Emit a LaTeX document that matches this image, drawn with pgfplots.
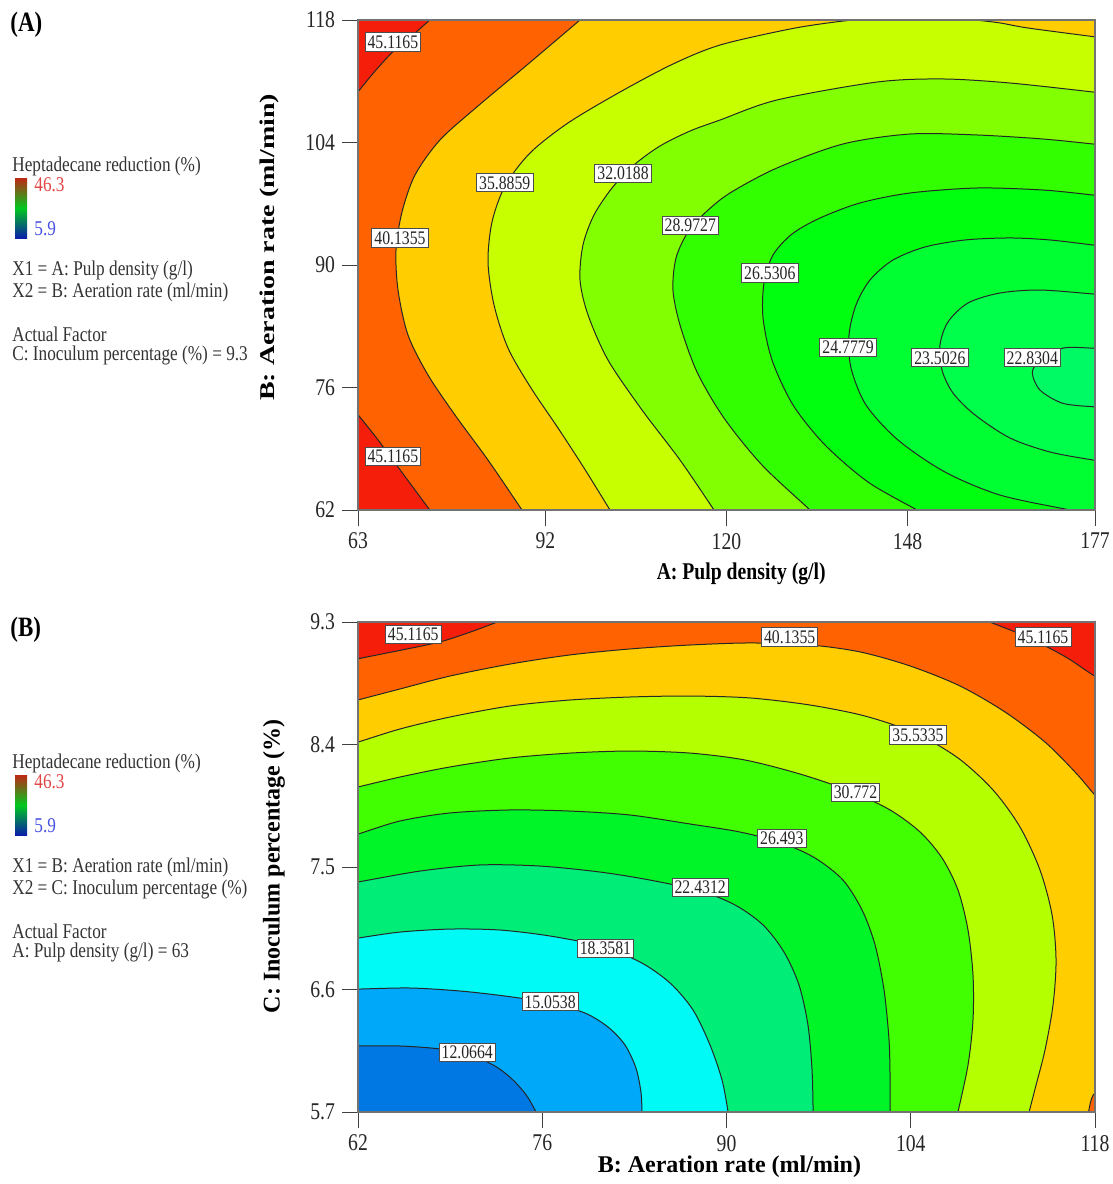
\documentclass[border=0pt]{standalone}
\usepackage{fontspec}
\setmainfont{Liberation Serif}[FakeStretch=0.82]
\newfontfamily\plainserif{Liberation Serif}
\usepackage{graphicx}
\usepackage{pgfplots}
\pgfplotsset{compat=1.18}

% band colours (value range between two contour levels)
\definecolor{cRed}{RGB}{245,30,10}
\definecolor{cOr}{RGB}{255,98,0}
\definecolor{cYO}{RGB}{255,205,0}
\definecolor{cLimeA}{RGB}{200,255,0}
\definecolor{cA4}{RGB}{130,255,0}
\definecolor{cA5}{RGB}{50,255,0}
\definecolor{cA6}{RGB}{0,255,15}
\definecolor{cA7}{RGB}{0,255,50}
\definecolor{cA8}{RGB}{0,255,75}
\definecolor{cA9}{RGB}{0,250,100}
\definecolor{cLimeB}{RGB}{180,255,0}
\definecolor{cB4}{RGB}{65,255,0}
\definecolor{cB5}{RGB}{0,245,40}
\definecolor{cB6}{RGB}{0,238,120}
\definecolor{cB7}{RGB}{0,250,245}
\definecolor{cB8}{RGB}{0,168,250}
\definecolor{cB9}{RGB}{0,120,228}

\newcommand\legf{\fontsize{10.5}{12}\selectfont}

\pgfplotsset{
  rsm/.style={
    scale only axis, width=368.5pt, height=245pt, anchor=north west,
    axis on top, tick pos=left, tick align=outside, major tick length=8pt,
    tick style={black!75, line width=0.5pt},
    axis line style={black!55, line width=0.6pt},
    /pgf/number format/assume math mode=true,
    tick label style={font=\fontsize{12}{14}\selectfont, text=black!85},
  },
  ct/.style={smooth, fill=#1, draw=black!85, line width=0.5pt},
}
\tikzset{lab/.style={draw=black!70, fill=white, inner sep=1.3pt, line width=0.4pt,
  font=\fontsize{9.6}{11}\selectfont, text=black!85}}

\begin{document}
\begin{tikzpicture}
\useasboundingbox (0,0) rectangle (556.5pt,-592pt);

% ---------------- (A) ----------------
\begin{axis}[rsm, at={(179pt,-10pt)},
  xmin=63, xmax=177, ymin=62, ymax=118,
  xtick={63,92,120,148,177}, ytick={62,76,90,104,118},
  axis background/.style={fill=cRed},
  xlabel={A: Pulp density (g/l)},
  xlabel style={font=\bfseries\fontsize{12}{14}\selectfont,
    at={(axis description cs:0.52,-0.1296)}, anchor=center},
  ylabel={\scalebox{1}[0.75]{\plainserif\bfseries\fontsize{14}{16}\selectfont B: Aeration rate (ml/min)}},
  ylabel style={at={(axis description cs:-0.1208,0.536)}, anchor=center},
]
% 45.1165 (two corners)
\addplot[ct=cOr] coordinates {(79.3,121.4) (76.7,119.7) (74.1,118) (71.5,116.3) (68.7,114.6)
  (65.8,112.3) (63,109.8) (60.2,107.3) (57.4,104.8) (45,100) (45,78) (57.6,78.1) (60.3,75.5)
  (63,72.9) (65.8,70.3) (68.4,67.7) (71.3,64.8) (74.1,62) (76,60) (78,58) (190,50) (190,125)};
% 40.1355
\addplot[ct=cYO] coordinates {(101.36,120.51) (99.35,119.26) (97.34,118) (89.14,112.86)
  (81.56,108.17) (75.68,104.29) (71.82,100.29) (69.81,96.06) (68.88,91.71) (69.19,87.14)
  (70.73,82.0) (73.83,77.43) (78.0,72.86) (83.11,67.71) (88.37,62) (90.2,60.0) (92.1,57.9)
  (190,50) (190,125)};
% 35.8859
\addplot[ct=cLimeA] coordinates {(106.0,57.2) (104.0,59.6) (101.98,62) (97.96,66.8)
  (93.94,71.37) (89.76,75.94) (86.20,80.51) (84.04,85.43) (83.11,90.34) (83.73,94.91)
  (85.74,99.03) (89.61,102.8) (95.48,106.23) (103.53,109.77) (111.72,112.97) (119.0,115.14)
  (129.82,116.97) (136.78,117.77) (141.7,118.15) (149.2,118.8) (156.6,118.15) (162,117.7)
  (166.5,117.1) (176.7,116.1) (179.5,115.8) (182,115.5) (195,40)};
% 32.0188
\addplot[ct=cA4] coordinates {(123.3,56.3) (120.7,59.1) (118.07,62) (112.81,67.71)
  (106.93,73.43) (101.67,79.14) (98.58,84.29) (97.34,88.29) (97.80,92.29) (99.50,95.71)
  (102.29,98.80) (105.69,101.43) (109.71,103.60) (114.35,105.31) (119.0,106.57)
  (127.81,108.86) (143.28,110.91) (153.49,111.26) (163.85,110.8) (176.69,109.77)
  (179.3,109.5) (182.1,109.3) (195,40)};
% 28.9727
\addplot[ct=cA5] coordinates {(139.1,57.7) (136.0,59.8) (132.92,62) (125.49,67.14)
  (119.61,72.51) (115.44,77.77) (112.81,83.14) (111.72,87.14) (112.19,90.80) (114.04,93.77)
  (116.83,96.06) (120.54,98.23) (127.81,101.09) (138.02,103.83) (148.38,104.97)
  (158.75,104.86) (168.95,104.4) (176.69,103.83) (179.5,103.6) (182,103.4) (195,40)};
% 26.5306
\addplot[ct=cA6] coordinates {(155.65,59.5) (152.56,60.74) (149.47,62) (141.89,65.2)
  (135.24,69.43) (130.29,74.0) (127.04,79.14) (125.65,83.94) (125.80,87.94) (127.19,91.14)
  (130.13,93.54) (134.46,95.37) (140.65,97.09) (148.38,98.23) (158.75,98.8) (168.95,98.57)
  (176.69,98.0) (179.5,97.8) (182,97.6) (195,40)};
% 24.7779
\addplot[ct=cA7] coordinates {(182.4,60.6) (177.77,61.31) (173.13,62) (162.30,63.71)
  (153.80,66.34) (146.53,70.0) (141.58,74.0) (139.26,78.23) (138.95,82.0) (140.03,85.43)
  (142.20,88.29) (145.75,90.57) (150.70,92.06) (156.89,92.86) (163.85,93.09) (170.04,92.86)
  (176.69,92.29) (179.5,92.1) (182,91.9) (195,40)};
% 23.5026
\addplot[ct=cA8] coordinates {(182,86.4) (179.5,86.55) (176.69,86.69) (168.49,87.14)
  (162.30,86.8) (157.36,85.66) (154.26,83.49) (153.02,80.86) (153.33,78.0) (155.03,75.37)
  (158.44,72.86) (163.85,70.23) (170.04,68.63) (176.69,67.71) (179.5,67.4) (182,67.2)};
% 22.8304
\addplot[ct=cA9] coordinates {(182,80.5) (179.5,80.5) (176.7,80.5) (172.0,80.5) (168.5,79.1)
  (167.3,77.7) (168.5,75.7) (172.0,74.2) (176.7,73.8) (179.5,73.7) (182,73.6)};

\node[lab] at (68.4,115.5) {45.1165};
\node[lab] at (69.5,93.1) {40.1355};
\node[lab] at (85.7,99.4) {35.8859};
\node[lab] at (104.0,100.5) {32.0188};
\node[lab] at (114.4,94.5) {28.9727};
\node[lab] at (126.7,89.1) {26.5306};
\node[lab] at (138.8,80.6) {24.7779};
\node[lab] at (153.0,79.4) {23.5026};
\node[lab] at (167.3,79.4) {22.8304};
\node[lab] at (68.4,68.1) {45.1165};
\end{axis}

% ---------------- (B) ----------------
\begin{axis}[rsm, at={(179pt,-311pt)},
  xmin=62, xmax=118, ymin=5.7, ymax=9.3,
  xtick={62,76,90,104,118}, ytick={5.7,6.6,7.5,8.4,9.3},
  axis background/.style={fill=cRed},
  xlabel={\plainserif\bfseries\fontsize{12}{14}\selectfont B: Aeration rate (ml/min)},
  xlabel style={at={(axis description cs:0.504,-0.1122)}, anchor=center},
  ylabel={\plainserif\bfseries\fontsize{12}{14}\selectfont C: Inoculum percentage (\%)},
  ylabel style={at={(axis description cs:-0.114,0.501)}, anchor=center},
]
% 45.1165 (two top corners)
\addplot[ct=cOr] coordinates {(58,8.95) (60,8.99) (62,9.03) (65.1,9.09) (68.2,9.153)
  (70.5,9.225) (72.6,9.3) (74.6,9.37) (76.6,9.44) (106,9.46) (108,9.38) (110,9.3)
  (112.1,9.22) (114.1,9.13) (116,9.03) (117.85,8.91) (120,8.79) (122,8.67) (130,4) (50,4)};
% 40.1355 (with the small bottom-right corner)
\addplot[ct=cYO] coordinates {(58,8.62) (60,8.672) (62,8.727) (65.19,8.808) (68.99,8.903)
  (73.55,8.991) (78.11,9.058) (82.67,9.102) (87.23,9.131) (91.79,9.146) (96.35,9.131)
  (100.15,9.080) (103.95,8.977) (107.74,8.830) (111.16,8.639) (114.20,8.418) (116.48,8.198)
  (117.85,8.044) (118.99,7.919) (120.13,7.786) (125,7) (125,6.2) (120,5.9) (118,5.84)
  (117.5,5.7) (117.3,5.62) (117.1,5.55) (50,4)};
% 35.5335
\addplot[ct=cLimeB] coordinates {(58,8.31) (60,8.364) (62,8.418) (65.19,8.514) (68.99,8.602)
  (73.55,8.683) (78.11,8.727) (82.67,8.749) (87.23,8.756) (91.79,8.742) (96.35,8.69)
  (100.53,8.609) (104.33,8.484) (107.59,8.301) (110.25,8.066) (112.30,7.794) (113.82,7.478)
  (114.74,7.147) (115.04,6.817) (114.81,6.486) (114.20,6.155) (113.52,5.898) (112.99,5.7)
  (112.61,5.567) (112.23,5.42) (50,4)};
% 30.772
\addplot[ct=cB4] coordinates {(58,8.0) (60,8.045) (62,8.088) (65.19,8.161) (68.99,8.235)
  (73.55,8.301) (78.11,8.337) (82.67,8.352) (87.23,8.337) (91.41,8.286) (95.59,8.183)
  (99.39,8.058) (102.43,7.919) (104.71,7.757) (106.38,7.566) (107.59,7.331) (108.35,7.037)
  (108.73,6.706) (108.73,6.376) (108.35,6.045) (107.59,5.7) (107.29,5.567) (106.98,5.42)
  (50,4)};
% 26.493
\addplot[ct=cB5] coordinates {(58,7.64) (60,7.69) (62,7.742) (65.19,7.838) (68.99,7.897)
  (73.55,7.919) (78.11,7.911) (82.67,7.882) (87.23,7.816) (91.03,7.757) (94.22,7.676)
  (96.73,7.566) (98.85,7.404) (100.30,7.184) (101.29,6.927) (101.97,6.596) (102.35,6.229)
  (102.43,5.935) (102.43,5.7) (102.43,5.567) (102.43,5.42) (50,4)};
% 22.4312
\addplot[ct=cB6] coordinates {(58,7.33) (60,7.36) (62,7.39) (66.71,7.470) (71.27,7.515)
  (75.83,7.507) (80.39,7.463) (84.19,7.404) (87.99,7.324) (90.65,7.221) (92.78,7.074)
  (94.37,6.875) (95.51,6.633) (96.19,6.339) (96.50,6.008) (96.58,5.7) (96.58,5.567)
  (96.58,5.42) (50,4)};
% 18.3581
\addplot[ct=cB7] coordinates {(59.11,6.95) (60.63,6.96) (62,6.978) (65.19,7.022) (68.99,7.044)
  (72.79,7.037) (76.59,6.993) (80.39,6.919) (83.43,6.802) (85.71,6.648) (87.46,6.449)
  (88.75,6.192) (89.66,5.935) (90.12,5.7) (90.27,5.567) (90.42,5.42) (50,4)};
% 15.0538
\addplot[ct=cB8] coordinates {(59.1,6.6) (60.6,6.6) (62,6.603) (65.95,6.611) (69.75,6.589)
  (73.17,6.552) (76.59,6.501) (79.25,6.427) (81.0,6.324) (82.29,6.192) (83.12,6.023)
  (83.5,5.847) (83.58,5.7) (83.62,5.567) (83.66,5.42) (50,4)};
% 12.0664
\addplot[ct=cB9] coordinates {(59,6.185) (60.5,6.185) (62,6.185) (65.19,6.185) (68.23,6.163)
  (70.51,6.118) (72.41,6.038) (73.78,5.935) (74.84,5.817) (75.53,5.7) (76.21,5.582)
  (76.89,5.465) (50,4)};

\node[lab] at (66.2,9.21) {45.1165};
\node[lab] at (94.8,9.19) {40.1355};
\node[lab] at (114.05,9.19) {45.1165};
\node[lab] at (104.55,8.47) {35.5335};
\node[lab] at (99.8,8.05) {30.772};
\node[lab] at (94.2,7.71) {26.493};
\node[lab] at (88.0,7.35) {22.4312};
\node[lab] at (80.8,6.90) {18.3581};
\node[lab] at (76.6,6.51) {15.0538};
\node[lab] at (70.3,6.14) {12.0664};
\end{axis}

% ---------------- side legends ----------------
\node[anchor=west, inner sep=0, font=\bfseries\fontsize{14}{16}\selectfont] at (5pt,-12.5pt) {(A)};
\node[anchor=west, inner sep=0, font=\bfseries\fontsize{14}{16}\selectfont] at (5pt,-315pt) {(B)};

\foreach \yo/\xa/\xb/\act in {0/{A: Pulp density (g/l)}/{B: Aeration rate (ml/min)}/{C: Inoculum percentage (\%) = 9.3},
                             298.5/{B: Aeration rate (ml/min)}/{C: Inoculum percentage (\%)}/{A: Pulp density (g/l) = 63}} {
  \begin{scope}[yshift=-\yo pt, every node/.style={anchor=west, inner sep=0, font=\legf, text=black!80}]
    \node at (6pt,-83pt) {Heptadecane reduction (\%)};
    \shade[top color={rgb,255:red,190;green,40;blue,20}, bottom color={rgb,255:red,10;green,30;blue,170},
      middle color={rgb,255:red,0;green,200;blue,30}] (7.5pt,-89pt) rectangle (13.5pt,-119pt);
    \node[text={rgb,255:red,225;green,70;blue,70}] at (17pt,-92.5pt) {46.3};
    \node[text={rgb,255:red,70;green,80;blue,225}] at (17pt,-114.5pt) {5.9};
    \node at (6pt,-135pt) {X1 = \xa};
    \node at (6pt,-146pt) {X2 = \xb};
    \node at (6pt,-167pt) {Actual Factor};
    \node at (6pt,-177.5pt) {\act};
  \end{scope}
}
\end{tikzpicture}
\end{document}
